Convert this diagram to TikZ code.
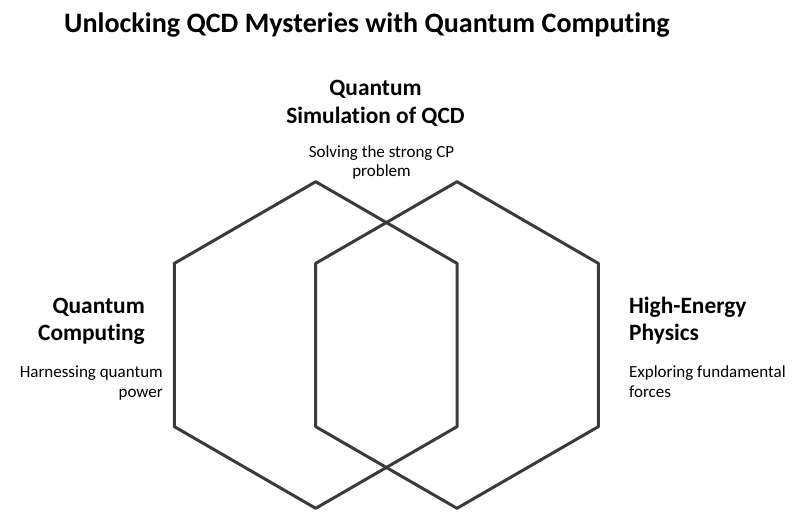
\documentclass[tikz,border=0pt]{standalone}
\usepackage{fontspec}
\setmainfont[Ligatures={NoCommon}]{Carlito}
\begin{document}
\begin{tikzpicture}[x=1pt,y=-1pt,
  hexline/.style={draw=hexgray,line width=3pt,line join=round},
  ttl/.style={inner sep=0pt,font=\fontsize{28.1}{32}\selectfont\bfseries,text=black},
  head/.style={inner sep=0pt,font=\fontsize{23.4}{28}\selectfont\bfseries,text=black},
  desc/.style={inner sep=0pt,font=\fontsize{17}{19}\selectfont,text=black}]
\definecolor{hexgray}{HTML}{3A3A3A}
\useasboundingbox[fill=white] (0,0) rectangle (800,525);
% hexagons (pointy top, circumradius 163.3)
\coordinate (lc) at (315.7,345);
\coordinate (rc) at (457,345);
\draw[hexline] (315.7,181.7) -- (457.1,263.4) -- (457.1,426.6) -- (315.7,508.3)
  -- (174.3,426.6) -- (174.3,263.4) -- cycle;
\draw[hexline] (457,181.7) -- (598.4,263.4) -- (598.4,426.6) -- (457,508.3)
  -- (315.6,426.6) -- (315.6,263.4) -- cycle;
% title
\node[ttl,anchor=base west] (title) at (64,32) {Unlocking QCD Mysteries with Quantum Computing};
% top label
\node[head,anchor=base] (t1) at (375.5,95) {Quantum};
\node[head,anchor=base] (t2) at (375.5,123) {Simulation of QCD};
\node[desc,anchor=base] (t3) at (381.5,157) {Solving the strong CP};
\node[desc,anchor=base] (t4) at (381.5,176.5) {problem};
% left label
\node[head,anchor=base east] (l1) at (145,313) {Quantum};
\node[head,anchor=base east] (l2) at (145,340.5) {Computing};
\node[desc,anchor=base east] (l3) at (163,377.5) {Harnessing quantum};
\node[desc,anchor=base east] (l4) at (163,397) {power};
% right label
\node[head,anchor=base west] (r1) at (629,313) {High-Energy};
\node[head,anchor=base west] (r2) at (629,340.5) {Physics};
\node[desc,anchor=base west] (r3) at (629,377.5) {Exploring fundamental};
\node[desc,anchor=base west] (r4) at (629,397) {forces};
\end{tikzpicture}
\end{document}
